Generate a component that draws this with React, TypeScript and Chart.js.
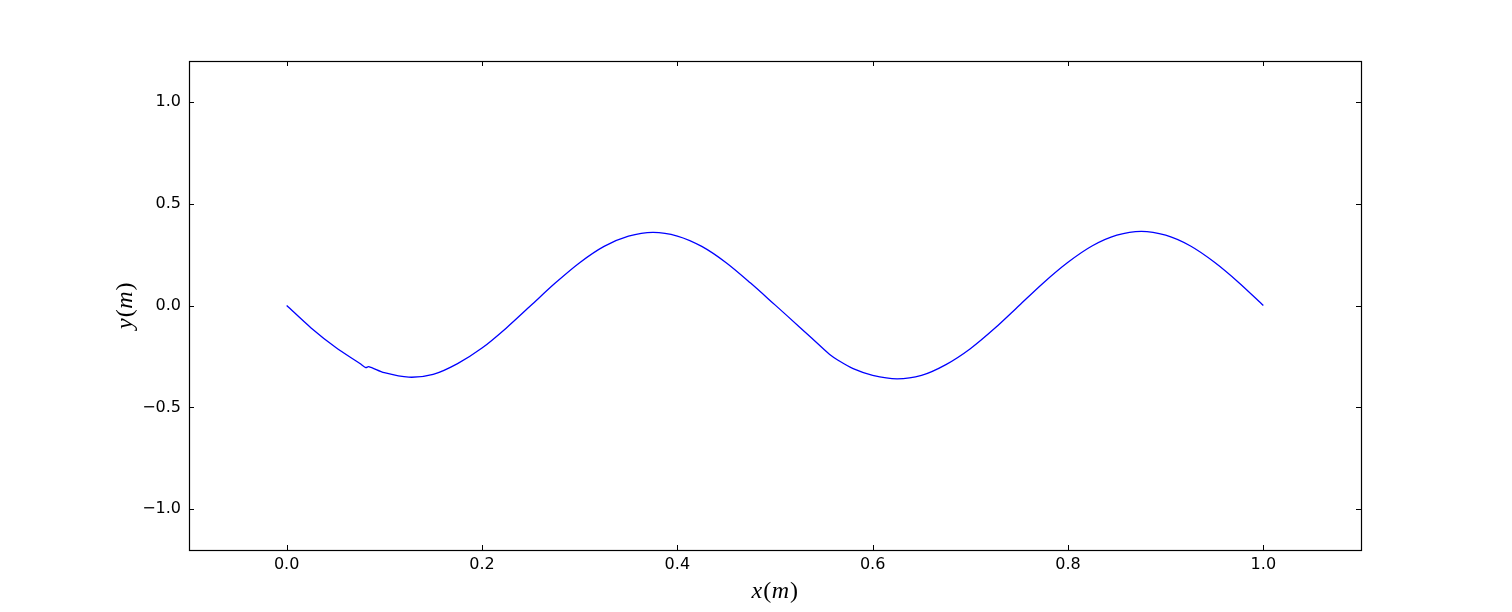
import React, { useEffect, useRef } from "react";
import { Chart, registerables } from "chart.js";

Chart.register(...registerables);

const xValues = [
  0.0, 0.025, 0.05, 0.075, 0.081, 0.084, 0.1, 0.125, 0.15, 0.175, 0.2, 0.225, 0.25,
  0.275, 0.3, 0.325, 0.35, 0.375, 0.4, 0.425, 0.45, 0.475, 0.5, 0.525, 0.55, 0.556,
  0.565, 0.58, 0.6, 0.625, 0.65, 0.675, 0.7, 0.725, 0.75, 0.775, 0.8, 0.825, 0.85,
  0.875, 0.9, 0.925, 0.95, 0.975, 1.0,
];
const yValues = [
  0.0, -0.11, -0.205, -0.285, -0.305, -0.3, -0.33, -0.352, -0.338, -0.285, -0.209, -0.11, 0.0,
  0.11, 0.21, 0.29, 0.34, 0.359, 0.341, 0.29, 0.21, 0.11, 0.003, -0.105, -0.215, -0.24,
  -0.27, -0.31, -0.343, -0.36, -0.343, -0.29, -0.212, -0.112, 0.0, 0.112, 0.212, 0.293, 0.345,
  0.364, 0.345, 0.293, 0.212, 0.112, 0.0,
];
const xTicks = [0.0, 0.2, 0.4, 0.6, 0.8, 1.0];
const yTicks = [-1.0, -0.5, 0.0, 0.5, 1.0];
const xLabelParts: [string, boolean][] = [["x", true], ["(", false], ["m", true], [")", false]];
const yLabelParts: [string, boolean][] = [["y", true], ["(", false], ["m", true], [")", false]];

const fmt = (v: number) => v.toFixed(1).replace("-", "\u2212");

function drawMath(ctx: CanvasRenderingContext2D, parts: [string, boolean][], size: number) {
  const fontFor = (it: boolean) => `${it ? "italic " : ""}${size}px 'Liberation Serif', serif`;
  let total = 0;
  const widths = parts.map(([t, it]) => {
    ctx.font = fontFor(it);
    const w = ctx.measureText(t).width + (it ? 1 : 0.5);
    total += w;
    return w;
  });
  let x = -total / 2;
  ctx.textAlign = "left";
  ctx.textBaseline = "alphabetic";
  parts.forEach(([t, it], i) => {
    ctx.font = fontFor(it);
    ctx.fillText(t, x, 0);
    x += widths[i];
  });
}

const framePlugin = {
  id: "frame",
  afterDraw(chart: any) {
    const { ctx, chartArea } = chart;
    const xs = chart.scales.x;
    const ys = chart.scales.y;
    const { left, right, top, bottom } = chartArea;
    ctx.save();
    ctx.strokeStyle = "#000";
    ctx.lineWidth = 1;
    const tl = 5;
    ctx.beginPath();
    xTicks.forEach((v) => {
      const px = Math.round(xs.getPixelForValue(v)) + 0.5;
      ctx.moveTo(px, bottom);
      ctx.lineTo(px, bottom - tl);
      ctx.moveTo(px, top);
      ctx.lineTo(px, top + tl);
    });
    yTicks.forEach((v) => {
      const py = Math.round(ys.getPixelForValue(v)) + 0.5;
      ctx.moveTo(left, py);
      ctx.lineTo(left + tl, py);
      ctx.moveTo(right, py);
      ctx.lineTo(right - tl, py);
    });
    ctx.stroke();
    ctx.lineWidth = 1.2;
    ctx.strokeRect(Math.round(left) + 0.5, Math.round(top) + 0.5, Math.round(right - left), Math.round(bottom - top));
    ctx.fillStyle = "#000";
    ctx.save();
    ctx.translate((left + right) / 2, 598);
    drawMath(ctx, xLabelParts, 24);
    ctx.restore();
    ctx.save();
    ctx.translate(132, (top + bottom) / 2);
    ctx.rotate(-Math.PI / 2);
    drawMath(ctx, yLabelParts, 24);
    ctx.restore();
    ctx.restore();
  },
};

export default function App() {
  const ref = useRef<HTMLCanvasElement>(null);
  useEffect(() => {
    if (!ref.current) return;
    const chart = new Chart(ref.current, {
      type: "line",
      data: {
        datasets: [
          {
            data: xValues.map((x, i) => ({ x, y: yValues[i] })),
            borderColor: "#0000ff",
            borderWidth: 1.3,
            pointRadius: 0,
            fill: false,
            tension: 0.3,
          },
        ],
      },
      options: {
        animation: false,
        responsive: false,
        devicePixelRatio: 1,
        layout: { padding: { left: 0, top: 61, right: 151, bottom: 0 } },
        plugins: { legend: { display: false }, tooltip: { enabled: false } },
        scales: {
          x: {
            type: "linear",
            min: -0.1,
            max: 1.1,
            grid: { display: false, drawTicks: false },
            border: { display: false },
            afterBuildTicks: (s: any) => {
              s.ticks = xTicks.map((v) => ({ value: v }));
            },
            afterFit: (s: any) => {
              s.height = 62;
            },
            ticks: {
              padding: 5,
              color: "#000",
              font: { family: "'DejaVu Sans'", size: 16 },
              maxRotation: 0,
              callback: (v: any) => fmt(Number(v)),
            },
          },
          y: {
            type: "linear",
            min: -1.2,
            max: 1.2,
            grid: { display: false, drawTicks: false },
            border: { display: false },
            afterBuildTicks: (s: any) => {
              s.ticks = yTicks.map((v) => ({ value: v }));
            },
            afterFit: (s: any) => {
              s.width = 189;
            },
            ticks: {
              padding: 8,
              color: "#000",
              font: { family: "'DejaVu Sans'", size: 16 },
              callback: (v: any) => fmt(Number(v)),
            },
          },
        },
      },
      plugins: [framePlugin],
    } as any);
    return () => chart.destroy();
  }, []);
  return (
    <div style={{ position: "absolute", left: 0, top: 0, width: 1512, height: 612, background: "#fff" }}>
      <canvas ref={ref} width={1512} height={612} style={{ width: 1512, height: 612 }} />
    </div>
  );
}
